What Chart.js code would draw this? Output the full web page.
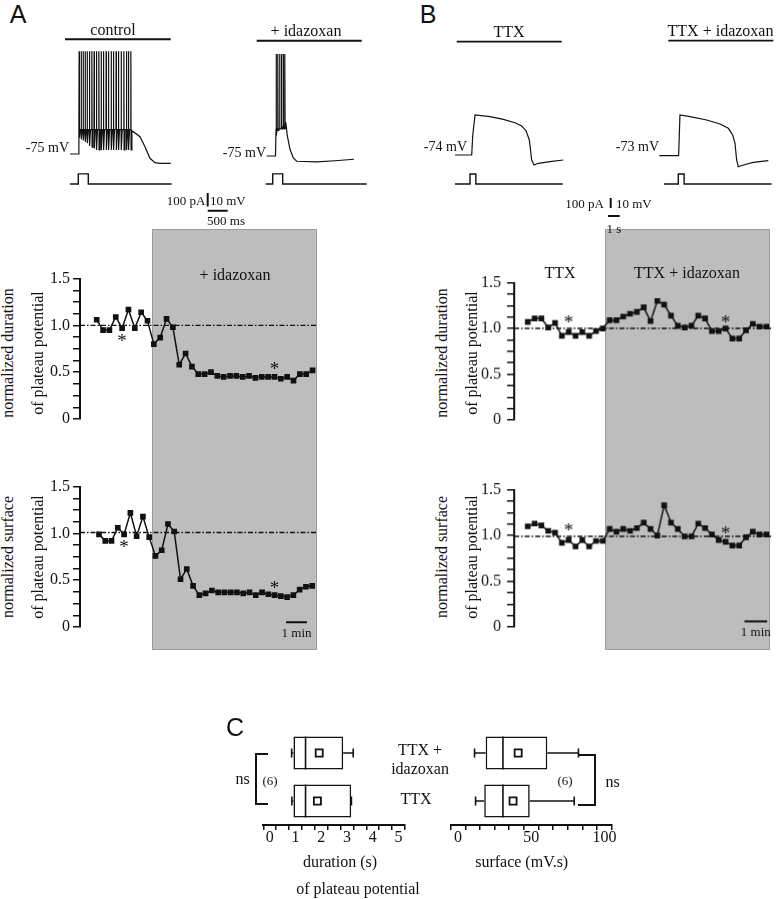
<!DOCTYPE html>
<html>
<head>
<meta charset="utf-8">
<script src="https://cdn.jsdelivr.net/npm/chart.js@4.4.1/dist/chart.umd.min.js"></script>
<style>
  body { margin: 0; background: #fff; }
  #fig { position: relative; width: 777px; height: 899px; overflow: hidden;
         font-family: "Liberation Serif", "Times New Roman", serif; color: #111; }
  #fig canvas { position: absolute; z-index: 2; }
  .t { position: absolute; white-space: nowrap; z-index: 3; font-size: 16px; line-height: 1; }
  .shade { position: absolute; background: #bdbdbd; border: 1px solid #9c9c9c; box-sizing: border-box; z-index: 1; }
  .br { position: absolute; border: 0 solid #111; box-sizing: border-box; z-index: 3; }
</style>
</head>
<body>
<div id="fig"></div>
<script>
// ---------------- data ----------------
const sampleMin = 0.3;                 // one plateau potential every 18 s

// panel A, normalized plateau duration / surface (control then + idazoxan)
const aDuration = [1.06, 0.95, 0.95, 1.09, 0.97, 1.17, 0.97, 1.14, 1.05, 0.80, 0.87, 1.07, 0.98, 0.58, 0.70, 0.56, 0.48, 0.48,
                   0.50, 0.46, 0.45, 0.46, 0.46, 0.45, 0.46, 0.44, 0.45, 0.45, 0.45, 0.43, 0.45, 0.41, 0.48, 0.48, 0.52];
const aSurface  = [0.99, 0.92, 0.92, 1.06, 0.99, 1.22, 0.97, 1.18, 0.96, 0.76, 0.82, 1.10, 1.02, 0.51, 0.62, 0.44, 0.34, 0.36,
                   0.39, 0.37, 0.37, 0.37, 0.37, 0.36, 0.37, 0.34, 0.37, 0.35, 0.34, 0.33, 0.32, 0.34, 0.40, 0.43, 0.44];
// panel B (TTX then TTX + idazoxan)
const bDuration = [1.07, 1.11, 1.11, 1.01, 1.06, 0.92, 0.96, 0.92, 0.96, 0.92, 0.97, 1.00, 1.09, 1.09, 1.13, 1.16, 1.18, 1.23,
                   1.08, 1.30, 1.26, 1.14, 1.03, 1.01, 1.03, 1.14, 1.11, 0.97, 0.97, 1.00, 0.89, 0.89, 0.98, 1.05, 1.02, 1.02];
const bSurface  = [1.10, 1.13, 1.11, 1.05, 1.03, 0.92, 0.95, 0.88, 0.95, 0.88, 0.94, 0.94, 1.07, 1.04, 1.07, 1.05, 1.08, 1.14,
                   1.07, 1.00, 1.33, 1.14, 1.07, 0.99, 0.99, 1.13, 1.08, 1.01, 0.95, 0.93, 0.89, 0.89, 0.98, 1.04, 1.01, 1.01];
const aDrugOn = 2.6;                   // min, start of idazoxan
const bDrugOn = 3.43;
// asterisks: sample index and height
const aDurStarIdx = [4, 28],  aDurStarVal = [0.85, 0.56];
const aSurfStarIdx = [4, 28], aSurfStarVal = [0.88, 0.44];
const bDurStarIdx = [6, 29],  bDurStarVal = [1.09, 1.09];
const bSurfStarIdx = [6, 29], bSurfStarVal = [1.08, 1.05];

// panel C box plots (TTX + idazoxan, TTX)
const groups = ['TTX + idazoxan', 'TTX'];
const durMin = [0.85, 0.86], durQ1 = [0.92, 0.92], durMed = [1.39, 1.39], durQ3 = [2.85, 3.16], durMax = [3.24, 3.17], durMean = [1.92, 1.85];
const surfMin = [11.3, 12], surfQ1 = [18.9, 17.9], surfMed = [30.7, 30.7], surfQ3 = [61, 49], surfMax = [82.3, 79.4], surfMean = [41.1, 37.6];

// voltage traces (ms from current pulse onset, mV)
const ctrlPreT = [-208, 0, 12],  ctrlPreV = [-75, -75, -60];
const ctrlSpikeT = [17, 68, 118, 168, 218, 275, 335, 392, 450, 510, 568, 625, 692, 750, 818, 875, 942, 1000, 1068, 1135, 1200, 1250, 1310];
const ctrlTrough = [-63, -64, -65, -66, -67, -69, -70, -71, -72, -72, -72, -72, -72, -72, -72, -72, -72, -72, -72, -72, -72, -72, -72];
const ctrlPostT = [1340, 1375, 1542, 1667, 1792, 1917, 2042, 2310];
const ctrlPostV = [-58.5, -58.5, -62.2, -69.6, -78.2, -81.4, -81.9, -81.9];
const idzPreT = [-150, 70], idzPreV = [-75, -75];
const idzSpikeT = [83, 125, 170, 215, 260, 300];
const idzTrough = [-60, -56, -54, -52, -51, -50];
const idzPostT = [335, 365, 432, 515, 600, 1100, 1557, 2032];
const idzPostV = [-52, -60, -70, -76.5, -78.9, -79.4, -78.5, -77.4];
const ttxT = [-1286, 146, 230, 430, 514, 1714, 2857, 3857, 4428, 4800, 5086, 5286, 5486, 5857, 6856, 8000];
const ttxV = [-74, -74, -55, -34, -34, -35.7, -38.3, -41.7, -45, -49.7, -59, -79, -84, -82.3, -80.7, -79];
const ttxIdzT = [-1628, 30, 140, 146, 1003, 2434, 3574, 4285, 4662, 4860, 5000, 5142, 5571, 6428, 7713];
const ttxIdzV = [-73, -73, -33, -32.3, -34, -37.3, -41.3, -45.6, -52.3, -60.6, -77.3, -84, -82.3, -79.6, -78];
// injected current steps (ms, pA)
const stepA_T = [-208, 0, 0, 250, 250, 2335], stepA_I = [0, 0, 75, 75, 0, 0];
const stepA2_T = [-175, 0, 0, 250, 250, 2350];
const stepB_T = [-1286, 0, 0, 500, 500, 7944], stepB_I = [0, 0, 100, 100, 0, 0];
const stepB2_T = [-1225, 0, 0, 500, 500, 7997];

// ---------------- helpers ----------------
Chart.defaults.font.family = '"Liberation Serif", "Times New Roman", serif';
Chart.defaults.color = '#111';
const fig = document.getElementById('fig');

function txt(s, x, y, o = {}) {
  const d = document.createElement('div');
  d.className = 't';
  d.textContent = s;
  d.style.left = x + 'px';
  d.style.top = y + 'px';
  if (o.size) d.style.fontSize = o.size + 'px';
  if (o.sans) d.style.fontFamily = '"Liberation Sans", Arial, sans-serif';
  const ax = o.align === 'right' ? '-100%' : o.align === 'left' ? '0' : '-50%';
  d.style.transform = 'translate(' + ax + ',-50%)' + (o.rot ? ' rotate(-90deg)' : '');
  fig.appendChild(d);
}

function addCanvas(left, top, w, h) {
  const c = document.createElement('canvas');
  c.width = w; c.height = h;
  c.style.left = left + 'px'; c.style.top = top + 'px';
  c.style.width = w + 'px'; c.style.height = h + 'px';
  fig.appendChild(c);
  return c;
}

const pts = (xs, ys) => xs.map((x, i) => ({x: x, y: ys[i]}));

function spikeTrain(times, troughs, peak, rest) {   // vertices of each action potential
  const out = [];
  times.forEach((t, i) => {
    out.push({x: t, y: rest}, {x: t + 4, y: peak}, {x: t + 10, y: troughs[i]}, {x: t + 30, y: rest});
  });
  return out;
}

// text drawn at data coordinates (asterisks, "1 min")
function textMarks(items) {
  return {
    id: 'textMarks',
    afterDraw(chart) {
      const {ctx, scales: {x, y}} = chart;
      ctx.save();
      ctx.fillStyle = '#111';
      ctx.textAlign = 'center';
      ctx.textBaseline = 'middle';
      items.forEach(m => {
        ctx.font = m.size + 'px "Liberation Serif"';
        ctx.fillText(m.text, x.getPixelForValue(m.x), y.getPixelForValue(m.y) + (m.dy || 0));
      });
      ctx.restore();
    }
  };
}

// ---------------- voltage traces ----------------
function traceChart(box, xr, yr, ir, sets) {
  const c = addCanvas(box[0], box[1], box[2], box[3]);
  return new Chart(c, {
    type: 'line',
    data: { datasets: sets },
    options: {
      responsive: false, animation: false, events: [],
      layout: { autoPadding: false, padding: 0 },
      plugins: { legend: { display: false }, tooltip: { enabled: false } },
      elements: { point: { radius: 0 }, line: { borderWidth: 1.2, borderColor: '#111', tension: 0, fill: false } },
      scales: {
        x: { type: 'linear', display: false, min: xr[0], max: xr[1] },
        y: { type: 'linear', display: false, min: yr[0], max: yr[1] },
        yI: { type: 'linear', display: false, min: ir[0], max: ir[1] }
      }
    }
  });
}
const bar = (data, w) => ({ data: data, borderWidth: w || 1.8, borderColor: '#111' });
const stepSet = (ts, is) => ({ data: pts(ts, is), yAxisID: 'yI', borderWidth: 1.4, borderColor: '#111' });

traceChart([40, 30, 210, 190], [-957.5, 4292.5], [-123.84, 16.76], [-266.4, 1139.6], [
  { data: pts(ctrlPreT, ctrlPreV).concat(spikeTrain(ctrlSpikeT, ctrlTrough, 1, -57), pts(ctrlPostT, ctrlPostV)) },
  stepSet(stepA_T, stepA_I),
  bar([{x: -333, y: 9.9}, {x: 2310, y: 9.9}]),               // "control" bar
  bar([{x: 3235, y: -103.9}, {x: 3235, y: -113.9}], 2),       // 10 mV / 100 pA
  bar([{x: 3235, y: -117}, {x: 3735, y: -117}], 2)            // 500 ms
]);
traceChart([240, 30, 140, 190], [-817.5, 2682.5], [-122.36, 18.24], [-266.4, 1139.6], [
  { data: pts(idzPreT, idzPreV).concat(spikeTrain(idzSpikeT, idzTrough, 0.5, -55), pts(idzPostT, idzPostV)) },
  stepSet(stepA2_T, stepA_I),
  bar([{x: -400, y: 10.3}, {x: 2225, y: 10.3}])
]);
traceChart([430, 30, 200, 200], [-3428, 13712], [-149, 51], [-460, 1540], [
  { data: pts(ttxT, ttxV) },
  stepSet(stepB_T, stepB_I),
  bar([{x: -1140, y: 39.3}, {x: 7859, y: 39.3}]),
  bar([{x: 12058, y: -117}, {x: 12058, y: -127}], 2),
  bar([{x: 11827, y: -135}, {x: 12827, y: -135}], 2)
]);
traceChart([640, 30, 137, 200], [-3282, 8459], [-147.3, 52.7], [-460, 1540], [
  { data: pts(ttxIdzT, ttxIdzV) },
  stepSet(stepB2_T, stepB_I),
  bar([{x: -857, y: 42}, {x: 8142, y: 42}])
]);

// ---------------- time courses ----------------
function courseChart(area, xr, vals, ref, starIdx, starVal, tickPad, minBar) {
  const left = area[0] - 40, top = area[1] - 12;
  const c = addCanvas(left, top, area[2] + 8 - left, area[3] + 18 - top);
  const marks = starIdx.map((s, i) => ({ x: s * sampleMin, y: starVal[i], text: '*', size: 19, dy: 3 }));
  const sets = [
    { data: vals.map((v, i) => ({x: i * sampleMin, y: v})), borderColor: '#111', borderWidth: 1.5,
      pointStyle: 'rect', pointRadius: 4, pointBackgroundColor: '#111', pointBorderColor: '#111', pointBorderWidth: 0 },
    { data: [{x: xr[0], y: ref}, {x: xr[1], y: ref}], borderColor: '#111', borderWidth: 1.4,
      borderDash: [5, 2, 1.5, 2], pointRadius: 0 }
  ];
  if (minBar) {
    sets.push({ data: [{x: minBar[0], y: minBar[1]}, {x: minBar[0] + 1, y: minBar[1]}], borderColor: '#111', borderWidth: 2, pointRadius: 0 });
    marks.push({ x: minBar[0] + 0.5, y: minBar[1], text: '1 min', size: 13, dy: 11 });
  }
  const chart = new Chart(c, {
    type: 'line',
    data: { datasets: sets },
    options: {
      responsive: false, animation: false, events: [],
      layout: { autoPadding: false, padding: { left: 4, top: 12, right: 8, bottom: 18 } },
      plugins: { legend: { display: false }, tooltip: { enabled: false } },
      scales: {
        x: { type: 'linear', display: false, min: xr[0], max: xr[1] },
        y: {
          min: 0, max: 1.5,
          afterFit: s => { s.width = 36; },
          ticks: {
            stepSize: 0.125, autoSkip: false, padding: tickPad, color: '#111',
            font: { size: 16 },
            callback: v => Math.abs(v * 2 - Math.round(v * 2)) < 1e-6 ? (v === 0 ? '0' : v.toFixed(1)) : ''
          },
          grid: { drawOnChartArea: false, drawTicks: true, tickLength: 7, color: '#111', lineWidth: 1.5 },
          border: { display: true, color: '#111', width: 2 }
        }
      }
    },
    plugins: [textMarks(marks)]
  });
  return { chart: chart, left: left, top: top };
}

function shade(info, onset, top, bottom) {
  const d = document.createElement('div');
  d.className = 'shade';
  const x0 = info.left + info.chart.scales.x.getPixelForValue(onset);
  const x1 = info.left + info.chart.chartArea.right;
  d.style.left = x0 + 'px'; d.style.width = (x1 - x0) + 'px';
  d.style.top = top + 'px'; d.style.height = (bottom - top) + 'px';
  fig.appendChild(d);
}

const aDur = courseChart([80, 278.3, 317, 419.3], [-0.79, 10.41], aDuration, 1.0, aDurStarIdx, aDurStarVal, 3);
courseChart([80, 485.7, 317, 626.7], [-0.91, 10.43], aSurface, 1.01, aSurfStarIdx, aSurfStarVal, 3, [8.95, 0.05]);
const bDur = courseChart([514, 279.3, 770.7, 420], [-0.6, 10.7], bDuration, 1.0, bDurStarIdx, bDurStarVal, 6);
courseChart([514, 486, 770.7, 626.7], [-0.6, 10.7], bSurface, 0.99, bSurfStarIdx, bSurfStarVal, 6, [9.53, 0.06]);
shade(aDur, aDrugOn, 229, 650);
shade(bDur, bDrugOn, 229, 650);

// ---------------- box plots ----------------
function boxChart(box, pad, xr, step, labelEvery, st) {
  const c = addCanvas(box[0], box[1], box[2], box[3]);
  const sets = [{
    type: 'bar', indexAxis: 'y', order: 10,
    data: st.q1.map((v, i) => [v, st.q3[i]]),
    backgroundColor: '#fff', borderColor: '#111', borderWidth: 1.6, borderSkipped: false,
    barPercentage: 0.69, categoryPercentage: 1
  }];
  groups.forEach((g, i) => {
    sets.push({ type: 'scatter', showLine: true, pointRadius: 0, borderColor: '#111', borderWidth: 1.6,
                data: [{x: st.min[i], y: g}, {x: st.q1[i], y: g}] });
    sets.push({ type: 'scatter', showLine: true, pointRadius: 0, borderColor: '#111', borderWidth: 1.6,
                data: [{x: st.q3[i], y: g}, {x: st.max[i], y: g}] });
  });
  sets.push({ type: 'scatter', data: st.min.concat(st.max).map((v, i) => ({x: v, y: groups[i % 2]})),
              pointStyle: 'line', rotation: 90, pointRadius: 4.5, pointBorderColor: '#111', pointBorderWidth: 1.6 });
  sets.push({ type: 'scatter', data: st.med.map((v, i) => ({x: v, y: groups[i]})),
              pointStyle: 'line', rotation: 90, pointRadius: 16.5, pointBorderColor: '#111', pointBorderWidth: 1.6 });
  sets.push({ type: 'scatter', data: st.mean.map((v, i) => ({x: v, y: groups[i]})),
              pointStyle: 'rect', pointRadius: 5, pointBackgroundColor: '#fff', pointBorderColor: '#111', pointBorderWidth: 1.8 });
  return new Chart(c, {
    type: 'bar',
    data: { labels: groups, datasets: sets },
    options: {
      responsive: false, animation: false, events: [],
      layout: { autoPadding: false, padding: pad },
      plugins: { legend: { display: false }, tooltip: { enabled: false } },
      scales: {
        y: { type: 'category', display: false },
        x: {
          type: 'linear', min: xr[0], max: xr[1],
          afterFit: s => { s.height = 24; },
          ticks: { stepSize: step, autoSkip: false, maxRotation: 0, padding: 0, color: '#111',
                   font: { size: 16, lineHeight: 1 },
                   callback: v => Math.abs(v / labelEvery - Math.round(v / labelEvery)) < 1e-6 ? String(v) : '' },
          grid: { drawOnChartArea: false, drawTicks: true, tickLength: 5, color: '#111', lineWidth: 1.5 },
          border: { display: true, color: '#111', width: 2 }
        }
      }
    }
  });
}

boxChart([200, 715, 215, 145], { left: 63.3, top: 14, right: 10, bottom: 11 }, [0, 5], 0.5, 1,
  { min: durMin, q1: durQ1, med: durMed, q3: durQ3, max: durMax, mean: durMean });
boxChart([420, 715, 200, 145], { left: 30.7, top: 14, right: 8.3, bottom: 11 }, [0, 100], 10, 50,
  { min: surfMin, q1: surfQ1, med: surfMed, q3: surfQ3, max: surfMax, mean: surfMean });

function bracket(left, top, w, h, side) {
  const d = document.createElement('div');
  d.className = 'br';
  d.style.left = left + 'px'; d.style.top = top + 'px';
  d.style.width = w + 'px'; d.style.height = h + 'px';
  d.style.borderTopWidth = '2px'; d.style.borderBottomWidth = '2px';
  d.style[side === 'left' ? 'borderLeftWidth' : 'borderRightWidth'] = '2px';
  fig.appendChild(d);
}
bracket(255, 752.5, 13, 52.5, 'left');
bracket(578, 754, 17.5, 52, 'right');

// ---------------- text ----------------
txt('A', 18, 14, { size: 25, sans: true });
txt('B', 428, 14, { size: 25, sans: true });
txt('C', 235, 727, { size: 25, sans: true });

txt('control', 113, 29.5);
txt('+ idazoxan', 306, 30.7);
txt('-75 mV', 69, 148, { align: 'right', size: 14 });
txt('-75 mV', 266, 153, { align: 'right', size: 14 });
txt('100 pA', 205.5, 200, { align: 'right', size: 13 });
txt('10 mV', 210, 200, { align: 'left', size: 13 });
txt('500 ms', 226, 220, { size: 13 });

txt('TTX', 509, 31.7);
txt('TTX + idazoxan', 720.5, 30.7);
txt('-74 mV', 467, 147, { align: 'right', size: 14 });
txt('-73 mV', 659, 147, { align: 'right', size: 14 });
txt('100 pA', 604, 203, { align: 'right', size: 13 });
txt('10 mV', 616, 203, { align: 'left', size: 13 });
txt('1 s', 614, 228, { size: 13 });

txt('+ idazoxan', 235, 275);
txt('TTX', 560, 273);
txt('TTX + idazoxan', 687, 273);

txt('normalized duration', 8, 353, { rot: true });
txt('of plateau potential', 38, 353, { rot: true });
txt('normalized surface', 8, 557, { rot: true });
txt('of plateau potential', 38, 557, { rot: true });
txt('normalized duration', 442, 353, { rot: true });
txt('of plateau potential', 472, 353, { rot: true });
txt('normalized surface', 442, 557, { rot: true });
txt('of plateau potential', 472, 557, { rot: true });

txt('ns', 242.5, 779);
txt('(6)', 270, 780, { size: 13 });
txt('TTX +', 420, 750);
txt('idazoxan', 420, 768.5);
txt('TTX', 416, 799);
txt('(6)', 565, 780, { size: 13 });
txt('ns', 612.5, 782);
txt('duration (s)', 340, 862);
txt('surface (mV.s)', 521.7, 862);
txt('of plateau potential', 358, 889);
</script>
</body>
</html>
